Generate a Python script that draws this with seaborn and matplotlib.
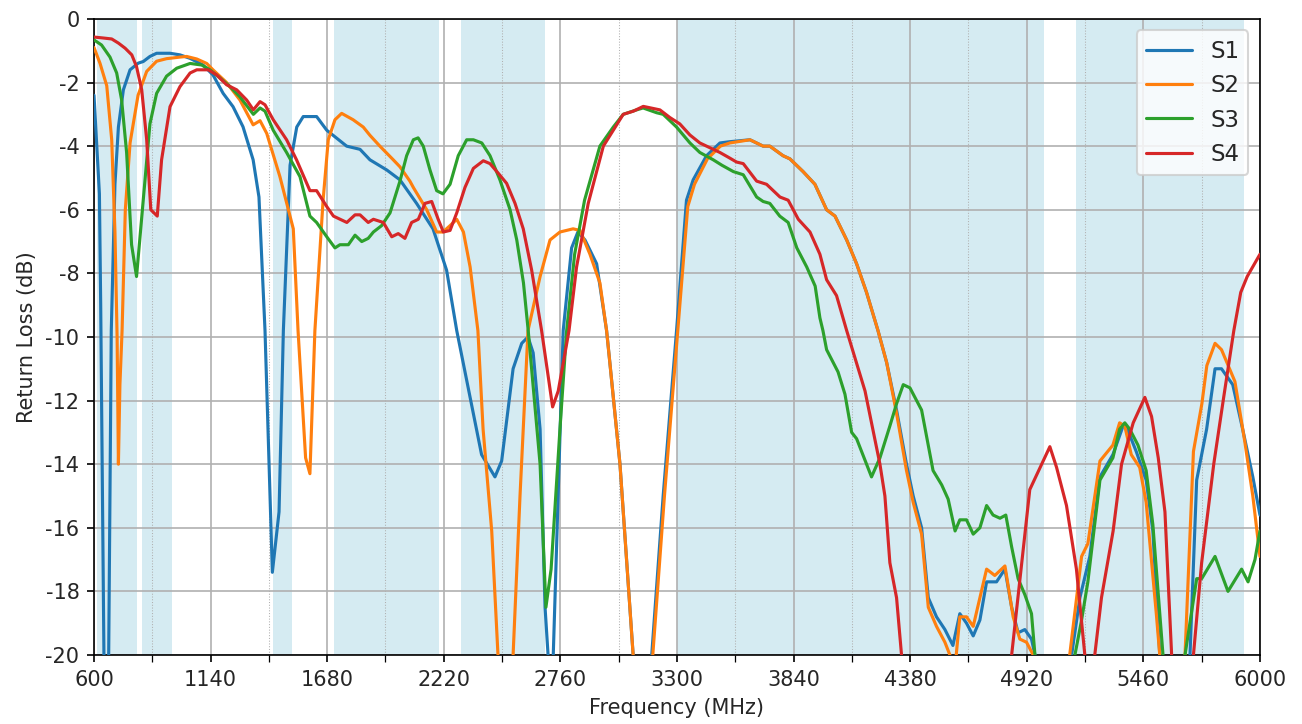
import numpy as np
import pandas as pd
import matplotlib
matplotlib.use("Agg")
import matplotlib.pyplot as plt
import seaborn as sns
from matplotlib.ticker import FixedLocator

# ---------------- data ----------------
series_names = ["S1", "S2", "S3", "S4"]

freq_s1 = [600, 625, 631, 646, 657, 668, 680, 697, 713, 736, 767, 805, 828, 859, 890, 952, 998, 1045,
           1105, 1151, 1198, 1244, 1290, 1337, 1364, 1392, 1426, 1457, 1477, 1508, 1539, 1569, 1631,
           1678, 1770, 1832, 1878, 1956, 2017, 2063, 2094, 2170, 2233, 2280, 2395, 2457, 2488, 2541,
           2581, 2610, 2634, 2666, 2689, 2703, 2715, 2727, 2773, 2812, 2841, 2874, 2928, 2974, 2989,
           3036, 3097, 3140, 3183, 3236, 3298, 3344, 3375, 3437, 3499, 3545, 3638, 3699, 3730, 3791,
           3823, 3884, 3939, 3993, 4032, 4086, 4132, 4178, 4231, 4271, 4317, 4363, 4394, 4433, 4464,
           4502, 4541, 4578, 4610, 4641, 4672, 4703, 4734, 4780, 4819, 4850, 4880, 4911, 4942, 4958,
           5040, 5128, 5166, 5212, 5259, 5319, 5366, 5380, 5427, 5473, 5504, 5536, 5600, 5676, 5707,
           5753, 5792, 5822, 5874, 5920, 5967, 6000]
rl_s1 = [-2.4, -5.5, -9.0, -20.0, -25.0, -20.0, -9.8, -5.2, -3.4, -2.23, -1.6, -1.39, -1.34, -1.18,
         -1.08, -1.08, -1.13, -1.24, -1.45, -1.76, -2.34, -2.76, -3.39, -4.43, -5.6, -9.8, -17.4,
         -15.5, -9.8, -4.6, -3.4, -3.07, -3.07, -3.5, -4.0, -4.1, -4.43, -4.75, -5.06, -5.5, -5.8,
         -6.6, -7.9, -9.8, -13.7, -14.4, -13.9, -11.0, -10.2, -10.0, -10.5, -12.9, -18.5, -20.0,
         -25.0, -20.0, -9.8, -7.2, -6.7, -6.95, -7.7, -9.8, -10.8, -14.0, -20.0, -25.0, -20.0, -15.0,
         -9.8, -5.7, -5.06, -4.3, -3.9, -3.86, -3.8, -4.0, -4.0, -4.3, -4.4, -4.8, -5.2, -6.0, -6.2,
         -6.95, -7.7, -8.6, -9.8, -10.8, -12.3, -14.0, -15.0, -16.0, -18.2, -18.8, -19.2, -19.7,
         -18.7, -19.0, -19.4, -18.9, -17.7, -17.7, -17.3, -18.5, -19.3, -19.2, -19.5, -20.0, -25.0,
         -20.0, -18.2, -16.9, -14.4, -13.7, -12.8, -12.8, -13.6, -14.5, -16.1, -20.0, -25.0, -20.0,
         -14.5, -12.9, -11.0, -11.0, -11.5, -12.9, -14.4, -15.6]

freq_s2 = [600, 628, 659, 682, 697, 707, 713, 720, 730, 745, 767, 804, 844, 890, 936, 998, 1029, 1076,
           1122, 1151, 1214, 1276, 1337, 1369, 1400, 1461, 1523, 1545, 1580, 1600, 1623, 1661, 1685,
           1716, 1747, 1800, 1847, 1878, 1924, 1986, 2017, 2063, 2079, 2141, 2187, 2216, 2249, 2280,
           2311, 2342, 2378, 2402, 2442, 2471, 2505, 2541, 2573, 2610, 2666, 2712, 2758, 2819, 2851,
           2897, 2943, 2974, 2989, 3036, 3097, 3140, 3188, 3242, 3304, 3350, 3381, 3441, 3501,
           3545, 3638, 3699, 3730, 3791, 3823, 3884, 3939, 3993, 4032, 4086, 4132, 4178, 4231, 4271,
           4317, 4363, 4394, 4433, 4464, 4502, 4541, 4564, 4585, 4610, 4641, 4672, 4734, 4772, 4819,
           4857, 4888, 4919, 4950, 5030, 5119, 5174, 5203, 5259, 5319, 5350, 5374, 5404, 5443, 5473,
           5520, 5536, 5600, 5653, 5692, 5731, 5754, 5792, 5822, 5884, 5930, 5967, 6000]
rl_s2 = [-0.9, -1.4, -2.1, -3.8, -6.7, -10.0, -14.0, -11.5, -9.8, -6.0, -3.9, -2.4, -1.65, -1.33,
         -1.25, -1.2, -1.18, -1.26, -1.4, -1.6, -2.0, -2.55, -3.33, -3.2, -3.6, -4.96, -6.6, -9.8,
         -13.8, -14.3, -9.8, -5.7, -3.8, -3.17, -2.97, -3.17, -3.4, -3.66, -4.0, -4.43, -4.65, -5.1,
         -5.3, -6.0, -6.7, -6.7, -6.5, -6.3, -6.7, -7.8, -9.8, -12.9, -16.1, -20.0, -25.0, -20.0,
         -15.0, -9.8, -8.1, -6.95, -6.7, -6.6, -6.65, -7.4, -8.3, -9.8, -10.8, -14.0, -20.0, -25.0,
         -20.0, -15.0, -9.8, -5.9, -5.2, -4.4, -4.0, -3.9, -3.8, -4.0, -4.0, -4.3, -4.4,
         -4.8, -5.2, -6.0, -6.2, -6.95, -7.7, -8.6, -9.8, -10.8, -12.4, -14.2, -15.2, -16.2, -18.5,
         -19.1, -19.6, -20.0, -20.6, -18.8, -18.8, -19.1, -17.3, -17.5, -17.2, -18.8, -19.5, -19.6,
         -20.0, -25.0, -20.0, -16.9, -16.5, -13.9, -13.4, -12.7, -12.8, -13.7, -14.1, -15.2, -18.7,
         -20.0, -25.0, -20.0, -13.6, -12.1, -10.9, -10.2, -10.4, -11.4, -13.3, -15.0, -16.9]

freq_s3 = [600, 635, 674, 705, 728, 751, 774, 797, 828, 859, 890, 936, 983, 1045, 1099, 1137, 1184,
           1230, 1276, 1338, 1369, 1392, 1430, 1492, 1554, 1600, 1631, 1678, 1716, 1739, 1778, 1809,
           1840, 1870, 1894, 1932, 1971, 2017, 2048, 2079, 2101, 2125, 2156, 2187, 2216, 2249, 2287,
           2326, 2357, 2396, 2434, 2480, 2527, 2558, 2589, 2611, 2666, 2693, 2717, 2758, 2789, 2826,
           2872, 2943, 3005, 3051, 3113, 3143, 3206, 3236, 3298, 3360, 3406, 3468, 3508, 3561, 3607,
           3669, 3699, 3730, 3776, 3815, 3855, 3901, 3940, 3962, 3976, 3993, 4046, 4078, 4109, 4132,
           4201, 4240, 4286, 4317, 4348, 4379, 4433, 4486, 4526, 4556, 4588, 4610, 4641, 4672, 4703,
           4734, 4764, 4796, 4823, 4850, 4880, 4911, 4942, 4958, 5050, 5143, 5174, 5203, 5259, 5319,
           5350, 5374, 5397, 5435, 5473, 5504, 5551, 5600, 5653, 5707, 5730, 5792, 5852, 5915, 5945,
           5977, 6000]
rl_s3 = [-0.66, -0.82, -1.2, -1.7, -2.55, -4.2, -7.1, -8.1, -5.7, -3.3, -2.34, -1.8, -1.55, -1.4,
         -1.45, -1.6, -1.86, -2.13, -2.45, -3.0, -2.8, -2.9, -3.5, -4.2, -4.96, -6.2, -6.4, -6.85,
         -7.2, -7.1, -7.1, -6.8, -7.0, -6.9, -6.7, -6.5, -6.1, -5.1, -4.3, -3.8, -3.74, -4.0, -4.75,
         -5.4, -5.5, -5.2, -4.3, -3.8, -3.8, -3.9, -4.3, -5.06, -6.0, -6.95, -8.3, -9.8, -14.0, -18.5,
         -17.3, -12.9, -9.8, -7.4, -5.7, -4.0, -3.4, -3.0, -2.86, -2.8, -2.95, -3.0, -3.4, -3.9, -4.2,
         -4.43, -4.6, -4.8, -4.9, -5.6, -5.74, -5.8, -6.2, -6.4, -7.2, -7.8, -8.4, -9.4, -9.8, -10.4,
         -11.1, -11.8, -13.0, -13.2, -14.4, -13.8, -12.8, -12.1, -11.5, -11.6, -12.3, -14.2, -14.65,
         -15.1, -16.1, -15.75, -15.75, -16.2, -16.0, -15.3, -15.6, -15.7, -15.6, -16.6, -17.6, -18.1,
         -18.7, -20.0, -25.0, -20.0, -18.9, -17.7, -14.5, -13.8, -12.9, -12.7, -12.9, -13.4, -14.2,
         -15.9, -20.0, -25.0, -20.0, -17.6, -17.6, -16.9, -18.0, -17.3, -17.7, -17.0, -16.1]

freq_s4 = [600, 643, 682, 713, 744, 775, 797, 821, 844, 863, 893, 913, 952, 998, 1045, 1076, 1129,
           1168, 1214, 1261, 1307, 1338, 1369, 1392, 1430, 1492, 1538, 1600, 1631, 1678, 1709, 1771,
           1809, 1832, 1870, 1894, 1940, 1979, 2009, 2040, 2071, 2102, 2133, 2164, 2194, 2218, 2249,
           2280, 2318, 2357, 2403, 2434, 2472, 2511, 2550, 2588, 2627, 2673, 2724, 2750, 2800, 2835,
           2889, 2959, 3005, 3051, 3098, 3144, 3221, 3267, 3313, 3360, 3406, 3468, 3499, 3538, 3576,
           3607, 3669, 3715, 3777, 3815, 3862, 3916, 3962, 3993, 4039, 4086, 4171, 4240, 4263, 4286,
           4317, 4340, 4600, 4850, 4934, 5027, 5058, 5104, 5150, 5189, 5210, 5235, 5266, 5320, 5359,
           5413, 5467, 5498, 5529, 5560, 5591, 5640, 5692, 5730, 5786, 5832, 5879, 5911, 5941, 6000]
rl_s4 = [-0.57, -0.6, -0.63, -0.76, -0.92, -1.13, -1.5, -2.23, -3.8, -6.0, -6.2, -4.43, -2.76, -2.13,
         -1.7, -1.6, -1.6, -1.76, -2.07, -2.23, -2.55, -2.86, -2.6, -2.7, -3.17, -3.8, -4.43, -5.4,
         -5.4, -5.9, -6.2, -6.4, -6.16, -6.16, -6.4, -6.3, -6.4, -6.85, -6.75, -6.9, -6.4, -6.3, -5.8,
         -5.74, -6.3, -6.7, -6.65, -6.1, -5.3, -4.7, -4.46, -4.55, -4.85, -5.17, -5.8, -6.6, -7.9,
         -9.8, -12.2, -11.7, -9.8, -7.8, -5.8, -4.0, -3.5, -3.0, -2.9, -2.75, -2.86, -3.1, -3.3,
         -3.65, -3.9, -4.1, -4.2, -4.35, -4.5, -4.55, -5.1, -5.2, -5.6, -5.7, -6.3, -6.7, -7.4, -8.2,
         -8.7, -9.8, -11.7, -14.0, -15.0, -17.1, -18.2, -20.0, -25.0, -20.0, -14.8, -13.45, -14.1,
         -15.3, -17.3, -20.0, -21.0, -20.0, -18.2, -16.1, -14.0, -12.7, -11.9, -12.5, -13.8, -15.5,
         -20.0, -25.0, -20.0, -17.1, -14.0, -11.9, -9.8, -8.6, -8.1, -7.4]

# frequency bands (MHz) shaded in the background
band_start = [614, 824, 1427, 1710, 2300, 3300, 5150]
band_end = [800, 960, 1518, 2200, 2690, 5000, 5925]

x_ticks = [600, 1140, 1680, 2220, 2760, 3300, 3840, 4380, 4920, 5460, 6000]
x_minor_ticks = [870, 1410, 1950, 2490, 3030, 3570, 4110, 4650, 5190, 5730]
y_ticks = [0, -2, -4, -6, -8, -10, -12, -14, -16, -18, -20]

# ---------------- plot ----------------
sns.set_style("ticks")
plt.rcParams["font.family"] = ["DejaVu Sans"]
plt.rcParams["axes.unicode_minus"] = False

frames = []
for name, f, r in zip(series_names, [freq_s1, freq_s2, freq_s3, freq_s4],
                      [rl_s1, rl_s2, rl_s3, rl_s4]):
    frames.append(pd.DataFrame({"Frequency": f, "RL": r, "Series": name}))
df = pd.concat(frames, ignore_index=True)

fig = plt.figure(figsize=(8.68, 4.827), dpi=150)
ax = fig.add_axes([0.0722, 0.0953, 0.8955, 0.8785])

for s, e in zip(band_start, band_end):
    ax.axvspan(s, e, color="lightblue", alpha=0.5, lw=0, zorder=0)

palette = sns.color_palette("tab10", 4)
sns.lineplot(data=df, x="Frequency", y="RL", hue="Series", palette=palette,
             estimator=None, sort=False, linewidth=1.5, ax=ax, zorder=3)

ax.set_xlim(600, 6000)
ax.set_ylim(-20, 0)
ax.set_xticks(x_ticks)
ax.set_yticks(y_ticks)
ax.xaxis.set_minor_locator(FixedLocator(x_minor_ticks))
ax.set_axisbelow("line")
ax.grid(which="major", color="#b0b0b0", linewidth=0.8)
ax.grid(which="minor", axis="x", color="#b0b0b0", linestyle=":", linewidth=0.5)
for sp in ax.spines.values():
    sp.set_visible(True)
    sp.set_color("black")
    sp.set_linewidth(0.8)
ax.tick_params(axis="both", which="major", labelsize=10, length=3.5, color="black")
ax.tick_params(axis="x", which="minor", length=3.5, color="black")

ax.set_xlabel("Frequency (MHz)", fontsize=10)
ax.set_ylabel("Return Loss (dB)", fontsize=10)

handles, labels = ax.get_legend_handles_labels()
ax.legend(handles, labels, loc="upper right", fontsize=11)

fig.savefig("out.png", dpi=150)
